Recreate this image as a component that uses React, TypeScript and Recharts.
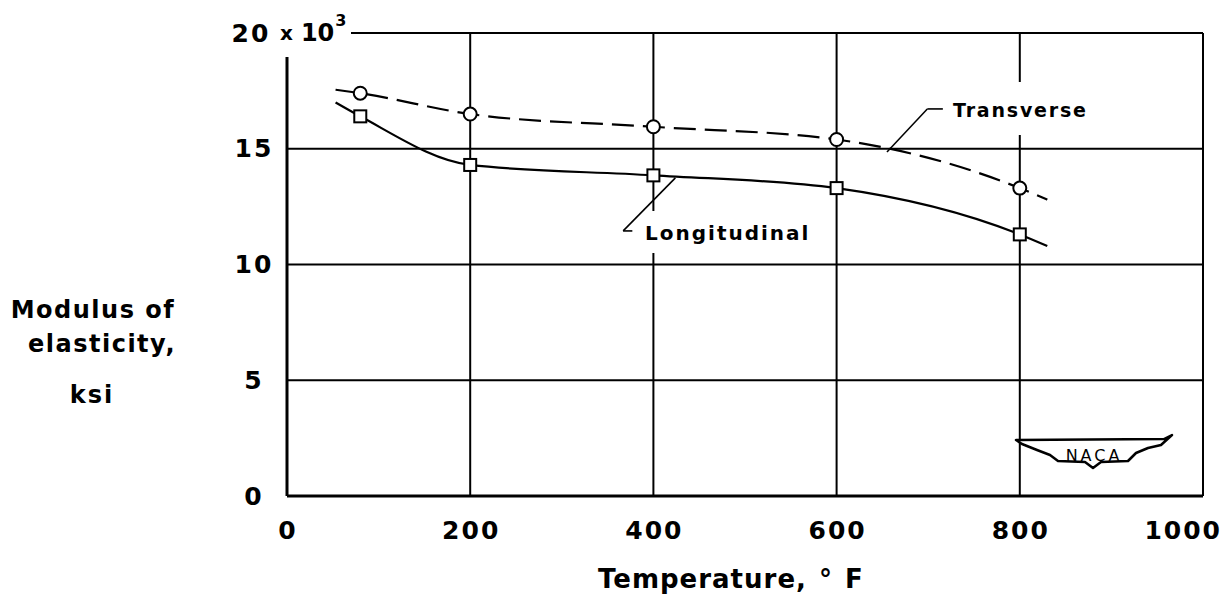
import React from "react";
import {
  ComposedChart,
  Line,
  Scatter,
  XAxis,
  YAxis,
  CartesianGrid,
  ReferenceLine,
} from "recharts";

// measured points (temperature °F, modulus ksi x 10^3)
const transverseTemps = [80, 200, 400, 600, 800];
const transverseModulus = [17.4, 16.5, 15.95, 15.4, 13.3];
const longitudinalTemps = [80, 200, 400, 600, 800];
const longitudinalModulus = [16.4, 14.3, 13.85, 13.3, 11.3];

// faired curves as drawn, with the short run past the end points
const transverseCurveTemps = [53, 80, 200, 400, 600, 800, 830];
const transverseCurveModulus = [17.55, 17.4, 16.5, 15.95, 15.4, 13.3, 12.8];
const longitudinalCurveTemps = [53, 80, 200, 400, 600, 800, 830];
const longitudinalCurveModulus = [17.0, 16.4, 14.3, 13.85, 13.3, 11.3, 10.8];

const xTicks = [0, 200, 400, 600, 800, 1000];
const yTicks = [0, 5, 10, 15, 20];

// leader lines for the curve labels, in data units
const transverseLeader = [
  { x: 716, y: 16.72 },
  { x: 699, y: 16.72 },
  { x: 655, y: 14.86 },
];
const longitudinalLeader = [
  { x: 377, y: 11.45 },
  { x: 367, y: 11.45 },
  { x: 424, y: 13.74 },
];

const FONT = '"DejaVu Sans", sans-serif';

const zip = (xs: number[], ys: number[]) => xs.map((x, i) => ({ x, y: ys[i] }));

const transversePoints = zip(transverseTemps, transverseModulus);
const longitudinalPoints = zip(longitudinalTemps, longitudinalModulus);
const transverseCurve = zip(transverseCurveTemps, transverseCurveModulus);
const longitudinalCurve = zip(longitudinalCurveTemps, longitudinalCurveModulus);

function CircleMark(props: any) {
  const { cx, cy } = props;
  return <circle cx={cx} cy={cy} r={6.5} fill="#fff" stroke="#000" strokeWidth={2} />;
}

function SquareMark(props: any) {
  const { cx, cy } = props;
  return (
    <rect x={cx - 6} y={cy - 6} width={12} height={12} fill="#fff" stroke="#000" strokeWidth={2} />
  );
}

function YTick(props: any) {
  const { x, y, payload } = props;
  const style = { fontFamily: FONT, fontWeight: 700, fill: "#000" } as const;
  if (payload.value === 20) {
    return (
      <g>
        <rect x={220} y={4} width={131} height={53} fill="#fff" />
        <text x={x - 3} y={y} textAnchor="middle" dominantBaseline="central" fontSize={25} letterSpacing={2} style={style}>
          20
        </text>
        <text x={280} y={y} dominantBaseline="central" style={style}>
          <tspan fontSize={20}>x</tspan>
          <tspan dx={8} fontSize={24}>10</tspan>
          <tspan dx={1} dy={-13} fontSize={16}>3</tspan>
        </text>
      </g>
    );
  }
  return (
    <text x={x} y={y} textAnchor="middle" dominantBaseline="central" fontSize={25} letterSpacing={2} style={style}>
      {payload.value}
    </text>
  );
}

function XTick(props: any) {
  const { x, y, payload } = props;
  const last = payload.value === 1000;
  return (
    <text
      x={last ? x + 19 : x + 1}
      y={y}
      textAnchor={last ? "end" : "middle"}
      dominantBaseline="central"
      fontSize={25}
      letterSpacing={2}
      style={{ fontFamily: FONT, fontWeight: 700, fill: "#000" }}
    >
      {payload.value}
    </text>
  );
}

function Overlay() {
  const t = { fontFamily: FONT, fontWeight: 700, fill: "#000" } as const;
  return (
    <svg
      width={1227}
      height={600}
      style={{ position: "absolute", left: 0, top: 0, pointerEvents: "none" }}
    >
      {/* axis titles */}
      <text x={93} y={318} textAnchor="middle" fontSize={24} letterSpacing={1.5} style={t}>
        Modulus of
      </text>
      <text x={102} y={352} textAnchor="middle" fontSize={24} letterSpacing={1.5} style={t}>
        elasticity,
      </text>
      <text x={92} y={403} textAnchor="middle" fontSize={24} letterSpacing={2} style={t}>
        ksi
      </text>
      <text x={598} y={588} fontSize={26} letterSpacing={1} style={t}>
        Temperature,
      </text>
      <text x={819} y={588} fontSize={26} style={t}>
        °
      </text>
      <text x={845} y={588} fontSize={26} style={t}>
        F
      </text>

      {/* curve labels, with white backing that breaks the grid */}
      <rect x={947} y={82} width={146} height={53} fill="#fff" />
      <text x={953} y={117} fontSize={19} letterSpacing={1.8} style={t}>
        Transverse
      </text>
      <rect x={644} y={211} width={178} height={42} fill="#fff" />
      <text x={645} y={240} fontSize={20} letterSpacing={2} style={t}>
        Longitudinal
      </text>

      {/* NACA wings */}
      <path
        d="M1016,440 L1164,439 L1172,435 L1161,445 L1148,448 L1136,453 L1128,461 L1101,462 L1093,468 L1085,462 L1058,461 L1050,455 L1037,450 L1022,444 Z"
        fill="#fff"
        stroke="#000"
        strokeWidth={2.5}
        strokeLinejoin="round"
      />
      <text
        x={1094}
        y={461}
        textAnchor="middle"
        fontSize={16}
        letterSpacing={3}
        style={{ fontFamily: FONT, fill: "#000" }}
      >
        NACA
      </text>
    </svg>
  );
}

export default function App() {
  return (
    <div style={{ position: "absolute", left: 0, top: 0, width: 1227, height: 600, background: "#fff" }}>
      <ComposedChart
        width={1227}
        height={600}
        margin={{ top: 33, right: 24, bottom: 74, left: 227 }}
      >
        <CartesianGrid stroke="#000" strokeWidth={2} />
        <XAxis
          type="number"
          dataKey="x"
          domain={[0, 1000]}
          ticks={xTicks}
          height={30}
          tickLine={false}
          tickSize={0}
          tickMargin={34}
          axisLine={{ stroke: "#000", strokeWidth: 3 }}
          tick={<XTick />}
          allowDataOverflow
        />
        <YAxis
          type="number"
          domain={[0, 20]}
          ticks={yTicks}
          width={60}
          tickLine={false}
          tickSize={0}
          tickMargin={33}
          axisLine={{ stroke: "#000", strokeWidth: 3 }}
          tick={<YTick />}
          allowDataOverflow
        />
        <ReferenceLine
          segment={[transverseLeader[0], transverseLeader[1]]}
          stroke="#000"
          strokeWidth={1.6}
          ifOverflow="visible"
        />
        <ReferenceLine
          segment={[transverseLeader[1], transverseLeader[2]]}
          stroke="#000"
          strokeWidth={1.6}
          ifOverflow="visible"
        />
        <ReferenceLine
          segment={[longitudinalLeader[0], longitudinalLeader[1]]}
          stroke="#000"
          strokeWidth={1.6}
          ifOverflow="visible"
        />
        <ReferenceLine
          segment={[longitudinalLeader[1], longitudinalLeader[2]]}
          stroke="#000"
          strokeWidth={1.6}
          ifOverflow="visible"
        />
        <Line
          data={transverseCurve}
          dataKey="y"
          type="monotone"
          stroke="#000"
          strokeWidth={2.2}
          strokeDasharray="22 9"
          dot={false}
          activeDot={false}
          isAnimationActive={false}
        />
        <Line
          data={longitudinalCurve}
          dataKey="y"
          type="monotone"
          stroke="#000"
          strokeWidth={2.2}
          dot={false}
          activeDot={false}
          isAnimationActive={false}
        />
        <Scatter
          data={transversePoints}
          dataKey="y"
          shape={<CircleMark />}
          isAnimationActive={false}
        />
        <Scatter
          data={longitudinalPoints}
          dataKey="y"
          shape={<SquareMark />}
          isAnimationActive={false}
        />
      </ComposedChart>
      <Overlay />
    </div>
  );
}
